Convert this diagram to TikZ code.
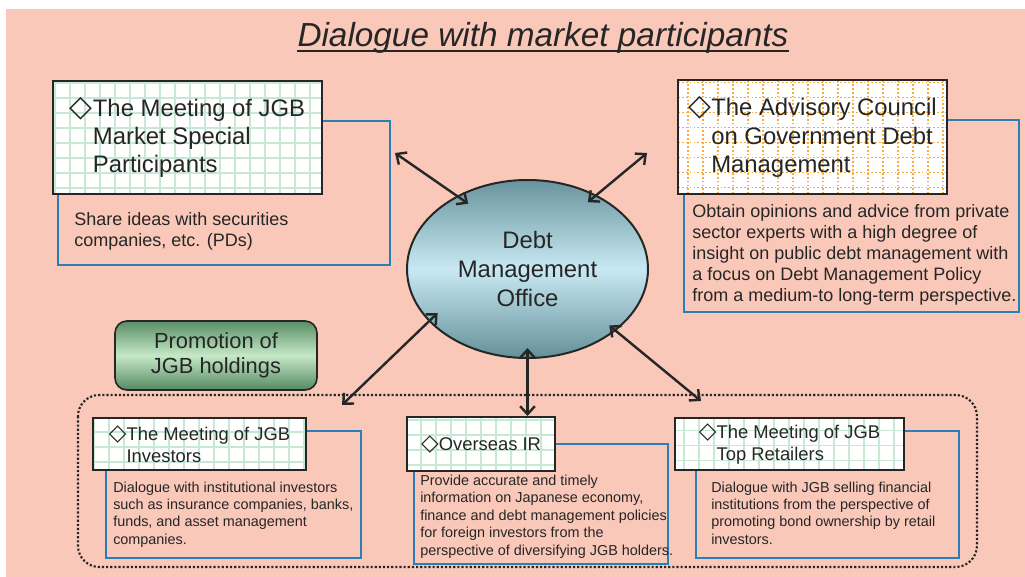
\documentclass[tikz,border=0pt]{standalone}
\usepackage{fontspec}
\setmainfont{Liberation Sans}
\newfontfamily\diafont{DejaVu Sans}
\usetikzlibrary{shapes.geometric,arrows.meta}

\definecolor{bgsalmon}{RGB}{249,200,185}
\definecolor{lineblue}{RGB}{41,128,185}
\definecolor{txt}{RGB}{38,38,38}
\definecolor{gridgreen}{RGB}{200,232,214}
\definecolor{gridorange}{RGB}{246,172,62}
\definecolor{dmotop}{RGB}{104,148,158}
\definecolor{dmomid}{RGB}{200,233,243}
\definecolor{dmobot}{RGB}{100,144,154}
\definecolor{promtop}{RGB}{88,142,102}
\definecolor{prommid}{RGB}{198,232,198}
\definecolor{prombot}{RGB}{84,138,98}

\newcommand{\dia}{\scalebox{1.25}{\diafont ◇}}
\newcommand{\titlefont}{\fontsize{25pt}{30pt}\selectfont\itshape}
\newcommand{\headfont}{\fontsize{17.9pt}{21.2pt}\selectfont}
\newcommand{\dmofont}{\fontsize{17.9pt}{21.5pt}\selectfont}
\newcommand{\promofont}{\fontsize{16.4pt}{18.75pt}\selectfont}
\newcommand{\subfont}{\fontsize{13.8pt}{16.3pt}\selectfont}
\newcommand{\descfont}{\fontsize{13.5pt}{15.75pt}\selectfont}
\newcommand{\smallfont}{\fontsize{10.8pt}{13.1pt}\selectfont}

\tikzset{
  headbox/.style={draw=txt, line width=1.6pt, fill=white, anchor=north west, align=left, text=txt, inner sep=0pt,
    path picture={\draw[gridgreen, line width=1.3pt, step=11.25pt] (path picture bounding box.south west) grid (path picture bounding box.north east);}},
  dotgrid/.style={path picture={\draw[gridorange, line width=1.3pt, dash pattern=on 1.3pt off 1.6pt, step=11.25pt] (path picture bounding box.south west) grid (path picture bounding box.north east);}},
  descbox/.style={draw=lineblue, line width=1.5pt, anchor=north west, inner sep=0pt},
  desctext/.style={anchor=north west, align=left, inner sep=0pt, text=txt},
  biarrow/.style={<->, >={Straight Barb[length=6pt,width=11pt]}, line width=1.8pt, draw=txt},
}

\begin{document}
\begin{tikzpicture}[x=0.75pt,y=0.75pt,yscale=-1,xscale=1]
\useasboundingbox (0,0) rectangle (1025,577);

%Shape: Rectangle [id:background]
\fill[bgsalmon] (6,9) rectangle (1025,577);

%Title
\node[anchor=base, inner sep=0pt, font=\titlefont, text=txt] (ttl) at (543,46.7) {Dialogue with market participants};
\coordinate (ul) at (0,50.7);
\draw[txt, line width=1.3pt] (ttl.base west |- ul) -- (ttl.base east |- ul);

%Shape: Rounded Rect [id:group frame]
\draw[txt, line width=1.6pt, dash pattern=on 1.6pt off 1.5pt, rounded corners=16pt] (78,395) rectangle (977,567);

%Shape: Rectangle [id:market special participants]
\node[descbox, minimum width=249pt, minimum height=108pt] (mspB) at (57,120) {};
\node[headbox, font=\headfont, minimum width=201.75pt, minimum height=84.75pt] (msp) at (52,80) {\dia The Meeting of JGB\\\hphantom{\dia}Market Special\\\hphantom{\dia}Participants};
\node[desctext, font=\descfont] (mspT) at (74,212.6) {Share ideas with securities\\companies, etc. (PDs)};

%Shape: Rectangle [id:advisory council]
\node[descbox, minimum width=251.25pt, minimum height=144pt] (adcB) at (683,119) {};
\node[headbox, dotgrid, font=\headfont, minimum width=201.75pt, minimum height=85.5pt] (adc) at (677,79) {\dia The Advisory Council\\\hphantom{\dia}on Government Debt\\\hphantom{\dia}Management};
\node[desctext, font=\descfont] (adcT) at (692,203.9) {Obtain opinions and advice from private\\sector experts with a high degree of\\insight on public debt management with\\a focus on Debt Management Policy\\from a medium-to long-term perspective.};

%Shape: Rectangle [id:jgb investors]
\node[descbox, minimum width=191.25pt, minimum height=95.25pt] (invB) at (105,430) {};
\node[headbox, font=\subfont, minimum width=159.75pt, minimum height=39pt] (inv) at (92,417) {\dia The Meeting of JGB\\\hphantom{\dia}Investors};
\node[desctext, font=\smallfont] (invT) at (113,481.3) {Dialogue with institutional investors\\such as insurance companies, banks,\\funds, and asset management\\companies.};

%Shape: Rectangle [id:overseas ir]
\node[descbox, minimum width=190.5pt, minimum height=90pt] (ovsB) at (413,443) {};
\node[headbox, font=\subfont, minimum width=111pt, minimum height=40.5pt] (ovs) at (406,416) {\dia Overseas IR};
\node[desctext, font=\smallfont] (ovsT) at (420,474.6) {Provide accurate and timely\\information on Japanese economy,\\finance and debt management policies\\for foreign investors from the\\perspective of diversifying JGB holders.};

%Shape: Rectangle [id:top retailers]
\node[descbox, minimum width=197.25pt, minimum height=95.25pt] (trB) at (695,430) {};
\node[headbox, font=\subfont, minimum width=171.75pt, minimum height=39pt] (tr) at (674,417) {\dia The Meeting of JGB\\\hphantom{\dia}Top Retailers};
\node[desctext, font=\smallfont] (trT) at (711,481.3) {Dialogue with JGB selling financial\\institutions from the perspective of\\promoting bond ownership by retail\\investors.};

%Shape: Rounded Rect [id:promotion]
\node[draw=txt, line width=1.2pt, rounded corners=9pt, top color=promtop, bottom color=prombot, middle color=prommid, minimum width=151.5pt, minimum height=51.75pt, inner sep=0pt, align=center, font=\promofont, text=txt] (prom) at (216,355.5) {Promotion of\\JGB holdings};

%Shape: Ellipse [id:debt management office]
\node[ellipse, draw=txt, line width=1.5pt, top color=dmotop, bottom color=dmobot, middle color=dmomid, minimum width=180.75pt, minimum height=133.5pt, inner sep=0pt, align=center, font=\dmofont, text=txt] (dmo) at (527.5,269) {Debt\\Management\\Office};

%Straight Lines [id:arrows]
\coordinate (a1) at (395,153);
\coordinate (a2) at (647,153);
\coordinate (a3) at (342,405);
\coordinate (a5) at (701,401);
\draw[biarrow, shorten >=-10.4pt] (a1) -- (dmo.134.5);
\draw[biarrow, shorten >=-8.5pt] (a2) -- (dmo.47.4);
\draw[biarrow, shorten >=-9.2pt] (a3) -- (dmo.208.8);
\draw[biarrow, shorten <=-8.2pt] (dmo.south) -- (dmo.south |- ovs.north);
\draw[biarrow, shorten >=-6.3pt] (a5) -- (dmo.325.1);
\end{tikzpicture}
\end{document}
